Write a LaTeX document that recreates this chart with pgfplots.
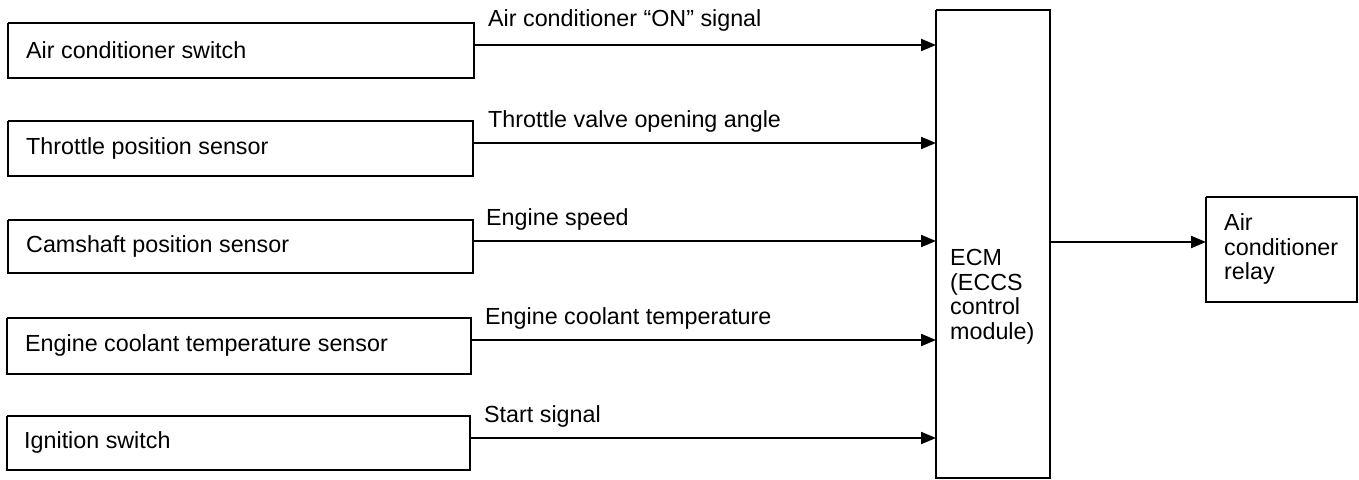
\documentclass[border=0pt]{standalone}
\usepackage{pgfplots}
\pgfplotsset{compat=1.18}
\usetikzlibrary{arrows.meta}
\usepackage{fontspec}
\setmainfont{Liberation Sans}
\begin{document}
\begin{tikzpicture}
\begin{axis}[
  scale only axis, width=1359pt, height=479pt,
  xmin=0, xmax=1359, ymin=0, ymax=479, y dir=reverse,
  hide axis, clip=false,
  ln/.style={black, solid, line width=2pt, line join=miter, mark=none},
  ar/.style={ln, -{Triangle[length=15pt,width=12pt]}},
  nodes={font=\fontsize{23.3}{24.5}\selectfont, inner sep=0pt}
]
% input boxes
\addplot[ln] coordinates {(8,23)(474,23)(474,78)(8,78)(8,23)};
\addplot[ln] coordinates {(8,121)(473,121)(473,176)(8,176)(8,121)};
\addplot[ln] coordinates {(8,220)(473,220)(473,273)(8,273)(8,220)};
\addplot[ln] coordinates {(7,318)(471,318)(471,374)(7,374)(7,318)};
\addplot[ln] coordinates {(7,416)(470,416)(470,470)(7,470)(7,416)};
% ECM box
\addplot[ln] coordinates {(936,10)(1050,10)(1050,478)(936,478)(936,10)};
% relay box
\addplot[ln] coordinates {(1206,197)(1357,197)(1357,302)(1206,302)(1206,197)};
% arrows
\addplot[ar] coordinates {(474,45)(936,45)};
\addplot[ar] coordinates {(473,143)(936,143)};
\addplot[ar] coordinates {(473,241)(936,241)};
\addplot[ar] coordinates {(471,340)(936,340)};
\addplot[ar] coordinates {(470,438)(936,438)};
\addplot[ar] coordinates {(1050,242)(1206,242)};
% box texts
\node[anchor=west] at (axis cs:26,50) {Air conditioner switch};
\node[anchor=west] at (axis cs:26,148) {Throttle position sensor};
\node[anchor=west] at (axis cs:26,246) {Camshaft position sensor};
\node[anchor=west] at (axis cs:25,345) {Engine coolant temperature sensor};
\node[anchor=west] at (axis cs:24,442) {Ignition switch};
% signal labels
\node[anchor=west] at (axis cs:488,20) {Air conditioner “ON” signal};
\node[anchor=west] at (axis cs:488,121) {Throttle valve opening angle};
\node[anchor=west] at (axis cs:486,219) {Engine speed};
\node[anchor=west] at (axis cs:485,318) {Engine coolant temperature};
\node[anchor=west] at (axis cs:484,416) {Start signal};
% ECM and relay
\node[anchor=west, align=left] at (axis cs:950,297) {ECM\\(ECCS\\control\\module)};
\node[anchor=west, align=left] at (axis cs:1224,249) {Air\\conditioner\\relay};
\end{axis}
\pgfresetboundingbox
\useasboundingbox (0,0) rectangle (1359pt,479pt);
\end{tikzpicture}
\end{document}
